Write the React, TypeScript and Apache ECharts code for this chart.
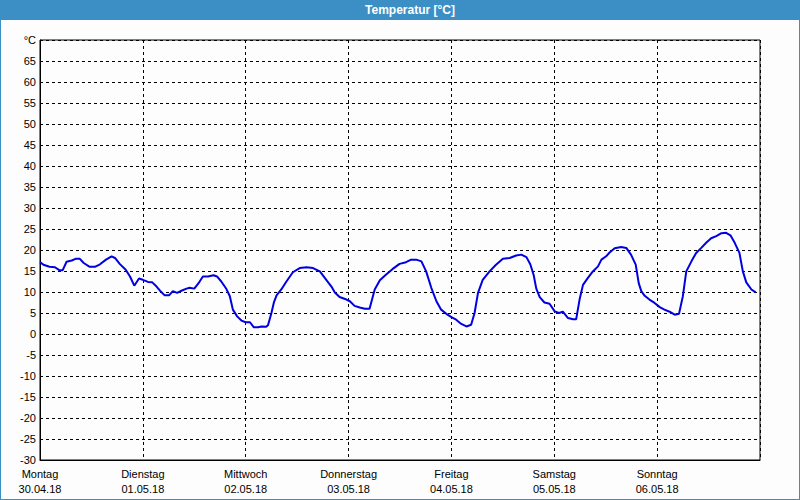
import React, { useEffect, useRef } from "react";
import * as echarts from "echarts";

const title = "Temperatur [°C]";
const dayNames = ["Montag", "Dienstag", "Mittwoch", "Donnerstag", "Freitag", "Samstag", "Sonntag"];
const dayDates = ["30.04.18", "01.05.18", "02.05.18", "03.05.18", "04.05.18", "05.05.18", "06.05.18"];

// hours since 30.04.18 00:00
const hours = [
  0, 0.8, 2.2, 3.5, 4.5, 5.3, 6.2, 7.4, 8.3, 9.3, 10.2, 11.6, 12.8, 14.0, 15.4, 16.7, 17.5, 18.6, 20.0, 21.0,
  22.0, 23.1, 24.0, 25.2, 26.2, 27.2, 28.0, 29.1, 30.1, 31.0, 32.0, 33.0, 34.2, 34.9, 36.0, 37.0, 38.0, 39.2,
  40.5, 41.3, 42.3, 43.5, 44.3, 45.0, 46.0, 47.0, 48.0, 49.0, 49.9, 50.9, 51.7, 52.7, 53.2, 54.0, 54.6, 55.2,
  56.3, 57.5, 59.0, 60.6, 62.2, 63.7, 65.3, 66.8, 68.0, 68.8, 69.9, 71.5, 72.3, 73.4, 74.6, 75.8, 76.9, 78.1,
  79.3, 80.7, 82.3, 83.9, 85.4, 86.6, 87.8, 89.0, 90.1, 91.3, 92.5, 93.6, 94.8, 96.0, 97.1, 98.3, 99.5, 100.6,
  101.4, 102.2, 103.3, 104.9, 106.4, 108.0, 109.6, 111.1, 112.3, 113.5, 114.4, 115.2, 115.8, 116.6, 117.7,
  118.9, 120.1, 121.1, 122.0, 123.2, 124.4, 125.1, 125.9, 126.7, 127.8, 129.0, 130.2, 131.0, 132.1, 132.9,
  134.1, 135.6, 136.8, 137.9, 139.0, 139.7, 140.3, 141.1, 142.2, 143.4, 144.6, 145.7, 146.9, 148.1, 149.1,
  150.0, 150.8, 152.0, 153.1, 154.3, 155.5, 156.6, 157.8, 159.0, 160.1, 161.1, 162.1, 163.2, 164.0, 164.8,
  166.0, 167.0,
];
const temps = [
  17.1, 16.5, 16.0, 15.9, 15.2, 15.2, 17.2, 17.5, 17.9, 17.9, 16.9, 16.0, 16.0, 16.6, 17.7, 18.5, 18.1, 16.7, 15.3, 13.7,
  11.5, 13.2, 12.9, 12.4, 12.3, 11.3, 10.3, 9.2, 9.2, 10.2, 9.8, 10.3, 10.8, 11.0, 10.8, 12.1, 13.7, 13.7,
  14.0, 13.7, 12.5, 10.7, 9.0, 5.8, 4.2, 3.2, 2.8, 2.8, 1.6, 1.6, 1.8, 1.7, 2.1, 5.0, 7.6, 9.2,
  10.6, 12.5, 14.7, 15.7, 15.9, 15.7, 14.9, 12.9, 11.3, 9.9, 8.8, 8.2, 7.8, 6.7, 6.3, 6.0, 6.0, 10.6,
  12.8, 14.1, 15.5, 16.7, 17.1, 17.7, 17.7, 17.3, 14.9, 11.0, 7.8, 5.8, 4.8, 4.0, 3.4, 2.4, 1.8, 2.2,
  5.0, 9.8, 12.9, 14.9, 16.5, 17.9, 18.1, 18.7, 18.9, 18.3, 16.6, 14.0, 10.8, 8.8, 7.5,
  7.2, 5.4, 5.0, 5.3, 3.8, 3.5, 3.5, 8.2, 11.7, 13.3, 14.9, 16.1, 17.7, 18.5, 19.4,
  20.4, 20.7, 20.5, 18.9, 16.5, 12.1, 10.2, 9.1, 8.2, 7.4, 6.4, 5.8, 5.3, 4.6, 4.8,
  9.0, 14.9, 17.3, 19.3, 20.5, 21.8, 22.8, 23.3, 24.0, 24.1, 23.5, 21.7, 19.3, 14.9, 12.3,
  10.6, 9.9,
];

const yMin = -30;
const yMax = 70;
const yStep = 5;
const unitLabel = "°C";

export default function App() {
  const ref = useRef<HTMLDivElement>(null);
  useEffect(() => {
    document.body.style.margin = "0";
    const chart = echarts.init(ref.current!, null, { renderer: "svg" });
    const font = "Liberation Sans";
    const data = hours.map((h, i) => [h, temps[i]]);
    chart.setOption({
      animation: false,
      backgroundColor: "#fcfdfc",
      textStyle: { fontFamily: font },
      grid: {
        left: 40,
        right: 40,
        top: 40,
        bottom: 40,
        show: true,
        borderColor: "#000",
        borderWidth: 1,
        backgroundColor: "transparent",
      },
      xAxis: {
        type: "value",
        min: 0,
        max: 168,
        interval: 24,
        axisLine: { show: true, onZero: false, lineStyle: { color: "#000", width: 1 } },
        axisTick: { show: false },
        splitLine: { show: true, lineStyle: { color: "#000", type: [3, 3], width: 1 } },
        axisLabel: {
          color: "#000",
          fontFamily: font,
          fontSize: 11,
          lineHeight: 15,
          margin: 6,
          showMaxLabel: false,
          formatter: (v: number) => {
            const i = Math.round(v / 24);
            if (i >= dayNames.length) return "";
            return dayNames[i] + "\n" + dayDates[i];
          },
        },
      },
      yAxis: {
        type: "value",
        min: yMin,
        max: yMax,
        interval: yStep,
        axisLine: { show: true, onZero: false, lineStyle: { color: "#000", width: 1 } },
        axisTick: { show: false },
        splitLine: { show: true, lineStyle: { color: "#000", type: [3, 3], width: 1 } },
        axisLabel: {
          color: "#000",
          fontFamily: font,
          fontSize: 11,
          margin: 4,
          formatter: (v: number) => (v === yMax ? unitLabel : String(v)),
        },
      },
      graphic: [
        { type: "rect", shape: { x: 0, y: 0, width: 800, height: 20 }, style: { fill: "#3b8fc4" } },
        {
          type: "text",
          x: 410,
          y: 10,
          style: {
            text: title,
            fill: "#fff",
            font: "bold 12px 'Liberation Sans'",
            align: "center",
            verticalAlign: "middle",
          },
        },
        { type: "rect", shape: { x: 0, y: 0, width: 1, height: 500 }, style: { fill: "#3b8fc4" } },
        { type: "rect", shape: { x: 799, y: 0, width: 1, height: 500 }, style: { fill: "#3b8fc4" } },
        { type: "rect", shape: { x: 0, y: 499, width: 800, height: 1 }, style: { fill: "#3b8fc4" } },
      ],
      series: [
        {
          type: "line",
          data,
          showSymbol: false,
          smooth: false,
          lineStyle: { color: "#0000e0", width: 2 },
        },
      ],
    });
    return () => chart.dispose();
  }, []);
  return <div ref={ref} style={{ width: 800, height: 500 }} />;
}
